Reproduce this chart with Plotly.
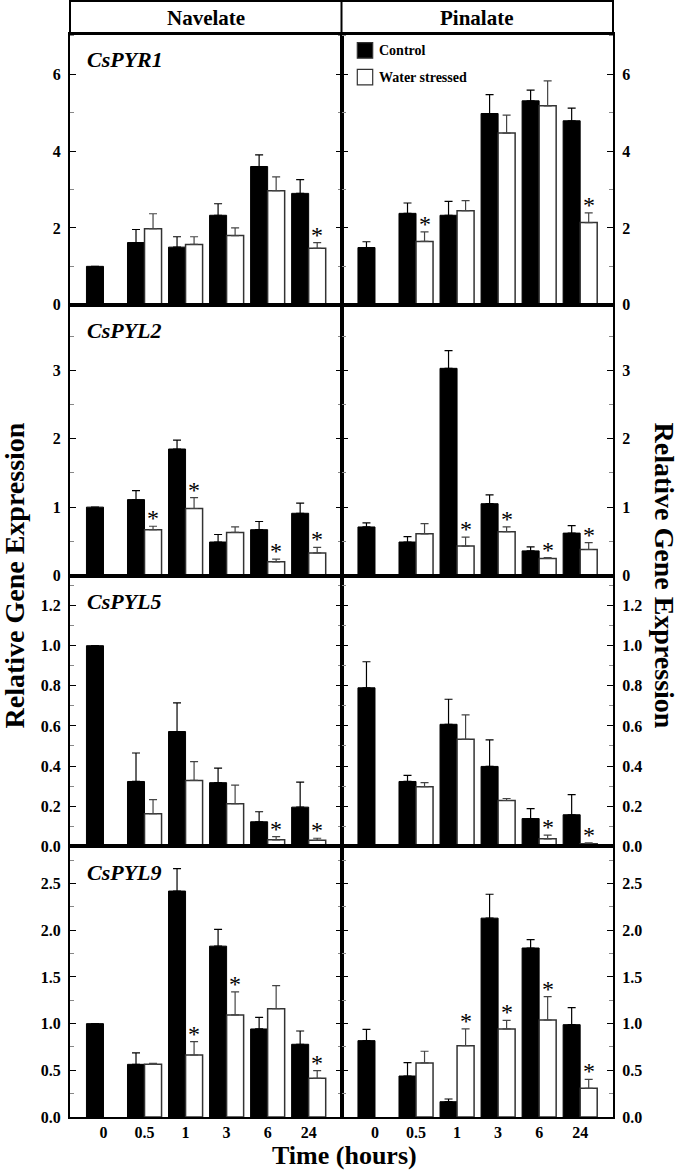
import plotly.graph_objects as go
from plotly.subplots import make_subplots

times = ["0", "0.5", "1", "3", "6", "24"]
genes = ["CsPYR1", "CsPYL2", "CsPYL5", "CsPYL9"]
cultivars = ["Navelate", "Pinalate"]

# Navelate
nav_pyr1_ctrl = [1.00, 1.62, 1.50, 2.33, 3.60, 2.90]
nav_pyr1_ctrl_se = [0.0, 0.34, 0.27, 0.30, 0.30, 0.36]
nav_pyr1_ws = [None, 1.98, 1.57, 1.80, 2.97, 1.47]
nav_pyr1_ws_se = [None, 0.39, 0.20, 0.20, 0.36, 0.15]
nav_pyr1_sig = [0, 0, 0, 0, 0, 1]

nav_pyl2_ctrl = [1.00, 1.11, 1.85, 0.49, 0.67, 0.91]
nav_pyl2_ctrl_se = [0.0, 0.13, 0.13, 0.11, 0.12, 0.15]
nav_pyl2_ws = [None, 0.67, 0.98, 0.63, 0.20, 0.33]
nav_pyl2_ws_se = [None, 0.05, 0.16, 0.08, 0.04, 0.08]
nav_pyl2_sig = [0, 1, 1, 0, 1, 1]

nav_pyl5_ctrl = [1.00, 0.323, 0.572, 0.317, 0.122, 0.195]
nav_pyl5_ctrl_se = [0.0, 0.142, 0.143, 0.073, 0.050, 0.125]
nav_pyl5_ws = [None, 0.162, 0.328, 0.212, 0.032, 0.030]
nav_pyl5_ws_se = [None, 0.070, 0.094, 0.093, 0.016, 0.010]
nav_pyl5_sig = [0, 0, 0, 0, 1, 1]

nav_pyl9_ctrl = [1.00, 0.564, 2.42, 1.83, 0.943, 0.779]
nav_pyl9_ctrl_se = [0.0, 0.122, 0.24, 0.18, 0.125, 0.142]
nav_pyl9_ws = [None, 0.564, 0.664, 1.093, 1.16, 0.414]
nav_pyl9_ws_se = [None, 0.011, 0.143, 0.247, 0.247, 0.082]
nav_pyl9_sig = [0, 0, 1, 1, 0, 1]

# Pinalate
pin_pyr1_ctrl = [1.49, 2.38, 2.33, 4.98, 5.31, 4.79]
pin_pyr1_ctrl_se = [0.15, 0.27, 0.36, 0.49, 0.28, 0.33]
pin_pyr1_ws = [None, 1.65, 2.45, 4.47, 5.18, 2.14]
pin_pyr1_ws_se = [None, 0.25, 0.26, 0.47, 0.65, 0.25]
pin_pyr1_sig = [0, 1, 0, 0, 0, 1]

pin_pyl2_ctrl = [0.71, 0.49, 3.03, 1.05, 0.36, 0.62]
pin_pyl2_ctrl_se = [0.06, 0.08, 0.26, 0.13, 0.06, 0.11]
pin_pyl2_ws = [None, 0.61, 0.43, 0.64, 0.25, 0.38]
pin_pyl2_ws_se = [None, 0.15, 0.13, 0.07, 0.01, 0.10]
pin_pyl2_sig = [0, 0, 1, 1, 1, 1]

pin_pyl5_ctrl = [0.79, 0.323, 0.608, 0.398, 0.138, 0.157]
pin_pyl5_ctrl_se = [0.13, 0.030, 0.125, 0.132, 0.050, 0.100]
pin_pyl5_ws = [None, 0.297, 0.533, 0.228, 0.037, 0.012]
pin_pyl5_ws_se = [None, 0.020, 0.122, 0.010, 0.018, 0.005]
pin_pyl5_sig = [0, 0, 0, 0, 1, 1]

pin_pyl9_ctrl = [0.818, 0.439, 0.164, 2.13, 1.81, 0.989]
pin_pyl9_ctrl_se = [0.121, 0.143, 0.029, 0.256, 0.090, 0.182]
pin_pyl9_ws = [None, 0.579, 0.764, 0.943, 1.039, 0.307]
pin_pyl9_ws_se = [None, 0.125, 0.179, 0.093, 0.251, 0.097]
pin_pyl9_sig = [0, 0, 1, 1, 1, 1]

y_max = [7.05, 3.96, 1.35, 2.9]
y_dtick = [2, 1, 0.2, 0.5]
y_minor = [1, 0.5, 0.1, 0.25]
y_fmt = ["d", "d", ".1f", ".1f"]

panels = {
    (0, 0): (nav_pyr1_ctrl, nav_pyr1_ctrl_se, nav_pyr1_ws, nav_pyr1_ws_se, nav_pyr1_sig),
    (1, 0): (nav_pyl2_ctrl, nav_pyl2_ctrl_se, nav_pyl2_ws, nav_pyl2_ws_se, nav_pyl2_sig),
    (2, 0): (nav_pyl5_ctrl, nav_pyl5_ctrl_se, nav_pyl5_ws, nav_pyl5_ws_se, nav_pyl5_sig),
    (3, 0): (nav_pyl9_ctrl, nav_pyl9_ctrl_se, nav_pyl9_ws, nav_pyl9_ws_se, nav_pyl9_sig),
    (0, 1): (pin_pyr1_ctrl, pin_pyr1_ctrl_se, pin_pyr1_ws, pin_pyr1_ws_se, pin_pyr1_sig),
    (1, 1): (pin_pyl2_ctrl, pin_pyl2_ctrl_se, pin_pyl2_ws, pin_pyl2_ws_se, pin_pyl2_sig),
    (2, 1): (pin_pyl5_ctrl, pin_pyl5_ctrl_se, pin_pyl5_ws, pin_pyl5_ws_se, pin_pyl5_sig),
    (3, 1): (pin_pyl9_ctrl, pin_pyl9_ctrl_se, pin_pyl9_ws, pin_pyl9_ws_se, pin_pyl9_sig),
}

FONT = "Liberation Serif"
W, H = 680, 1173
ML, MR, MT, MB = 70, 67, 34, 56
PW, PH = W - ML - MR, H - MT - MB

fig = make_subplots(rows=4, cols=2, horizontal_spacing=0, vertical_spacing=0)

xpos = list(range(len(times)))
bargap = 0.17
half = (1 - bargap) / 4  # offset of each bar centre from group centre

for (r, c), (cm, cse, wm, wse, sig) in panels.items():
    fig.add_trace(go.Bar(
        x=xpos, y=cm, name="Control", showlegend=False,
        marker=dict(color="black", line=dict(color="black", width=1)),
        error_y=dict(type="data", symmetric=False, array=cse,
                     arrayminus=[0] * len(cse), color="black",
                     thickness=1.2, width=4),
    ), row=r + 1, col=c + 1)
    fig.add_trace(go.Bar(
        x=xpos, y=wm, name="Water stressed", showlegend=False,
        marker=dict(color="white", line=dict(color="#333333", width=1.5)),
        error_y=dict(type="data", symmetric=False,
                     array=[0 if v is None else v for v in wse],
                     arrayminus=[0] * len(wse), color="#444444",
                     thickness=1.2, width=4),
    ), row=r + 1, col=c + 1)
    for i, s in enumerate(sig):
        if s and wm[i] is not None:
            fig.add_annotation(
                x=xpos[i] + half, y=wm[i] + wse[i], text="*",
                showarrow=False, yanchor="bottom", yshift=-7,
                font=dict(family=FONT, size=24, color="#000000"),
                row=r + 1, col=c + 1)

for r in range(4):
    for c in range(2):
        fig.update_yaxes(
            range=[0, y_max[r]], dtick=y_dtick[r], tick0=0,
            tickformat=y_fmt[r],
            showline=True, linecolor="black", linewidth=2,
            mirror="ticks", ticks="inside", ticklen=6, tickwidth=1.2,
            tickcolor="black",
            minor=dict(ticks="inside", dtick=y_minor[r], tick0=0,
                       ticklen=4, tickcolor="#888888", tickwidth=1),
            showgrid=False, zeroline=False,
            side="left" if c == 0 else "right",
            tickfont=dict(family=FONT, size=16, color="black", weight="bold"),
            ticklabelstandoff=4,
            row=r + 1, col=c + 1)
        fig.update_xaxes(
            range=[-0.816, 5.80], tickvals=xpos, ticktext=times,
            showline=True, linecolor="black", linewidth=2, mirror=True,
            ticks="", showgrid=False, zeroline=False,
            showticklabels=(r == 3),
            tickfont=dict(family=FONT, size=16, color="black", weight="bold"),
            row=r + 1, col=c + 1)
        if c == 0:
            idx = r * 2 + c + 1
            fig.add_annotation(
                xref="x domain" if idx == 1 else f"x{idx} domain",
                yref="y domain" if idx == 1 else f"y{idx} domain",
                x=15 / (PW / 2), y=1 - 26 / (PH / 4), xanchor="left", yanchor="middle",
                text=f"<b><i>{genes[r]}</i></b>",
                showarrow=False, font=dict(family=FONT, size=22, color="black"))

# header boxes
hdr = 33 / PH
fig.add_shape(type="rect", xref="paper", yref="paper", x0=0, x1=1, y0=1, y1=1 + hdr,
              line=dict(color="black", width=2), layer="above")
fig.add_shape(type="line", xref="paper", yref="paper", x0=0.5, x1=0.5, y0=1, y1=1 + hdr,
              line=dict(color="black", width=2), layer="above")
for k, name in enumerate(cultivars):
    fig.add_annotation(xref="paper", yref="paper", x=0.25 + 0.5 * k, y=1 + hdr / 2,
                       text=f"<b>{name}</b>", showarrow=False, xanchor="center",
                       yanchor="middle", font=dict(family=FONT, size=21, color="black"))

# legend (drawn in the Pinalate CsPYR1 panel)
legend_items = [("Control", "black"), ("Water stressed", "white")]
for k, (lab, col) in enumerate(legend_items):
    top = 42.7 + k * 26.6
    fig.add_shape(type="rect", xref="paper", yref="paper",
                  x0=(357.3 - ML) / PW, x1=(372.7 - ML) / PW,
                  y0=1 - (top + 15.5 - MT) / PH, y1=1 - (top - MT) / PH,
                  fillcolor=col, line=dict(color="#333333", width=1.2))
    fig.add_annotation(xref="paper", yref="paper", x=(377 - ML) / PW,
                       y=1 - (top + 7.8 - MT) / PH, text=f"<b>{lab}</b>",
                       showarrow=False, xanchor="left", yanchor="middle",
                       font=dict(family=FONT, size=14, color="black"))

# axis titles
fig.add_annotation(xref="paper", yref="paper", x=(14 - ML) / PW, y=0.5,
                   text="<b>Relative Gene Expression</b>", textangle=-90,
                   showarrow=False, xanchor="center", yanchor="middle",
                   font=dict(family=FONT, size=28, color="black"))
fig.add_annotation(xref="paper", yref="paper", x=(664 - ML) / PW, y=0.5,
                   text="<b>Relative Gene Expression</b>", textangle=90,
                   showarrow=False, xanchor="center", yanchor="middle",
                   font=dict(family=FONT, size=28, color="black"))
fig.add_annotation(xref="paper", yref="paper", x=(344 - ML) / PW,
                   y=-(1155 - MT - PH) / PH,
                   text="<b>Time (hours)</b>", showarrow=False,
                   xanchor="center", yanchor="middle",
                   font=dict(family=FONT, size=26, color="black"))

fig.update_layout(
    width=W, height=H, margin=dict(l=ML, r=MR, t=MT, b=MB, autoexpand=False),
    barmode="group", bargap=bargap, bargroupgap=0,
    plot_bgcolor="white", paper_bgcolor="white", showlegend=False,
    font=dict(family=FONT, color="black"),
)

fig.write_html("out.html", config={"displayModeBar": False},
               post_script="document.body.style.margin='0px';")
